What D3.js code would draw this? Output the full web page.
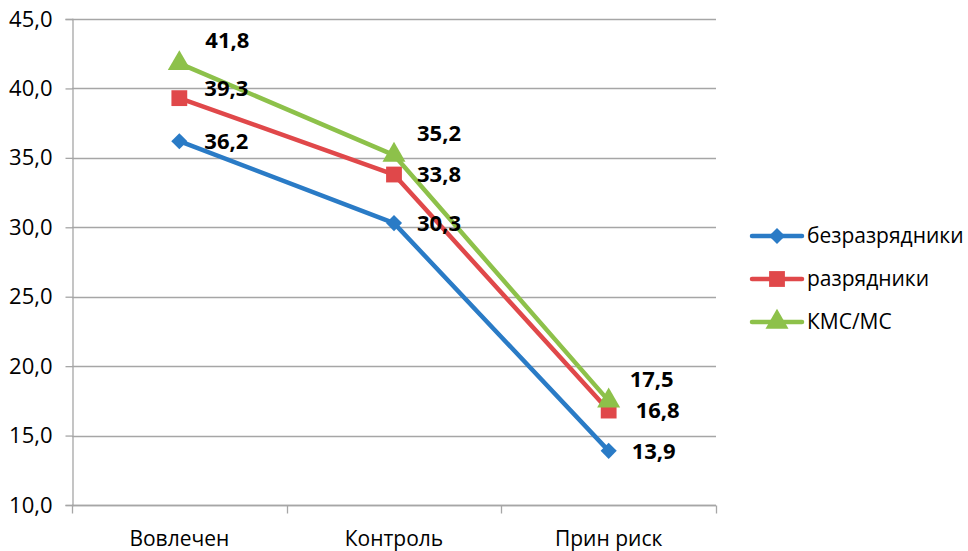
<!DOCTYPE html>
<html>
<head>
<meta charset="utf-8">
<script src="https://cdn.jsdelivr.net/npm/d3@7"></script>
<style>
  html, body { margin: 0; padding: 0; background: #fff; }
  svg { display: block; }
  text { font-family: "Open Sans", "Liberation Sans", sans-serif; fill: #000; }
</style>
</head>
<body>
<svg id="chart" width="968" height="551"></svg>
<script>
// Categories and series values
const categories = ["Вовлечен", "Контроль", "Прин риск"];
const seriesNames = ["безразрядники", "разрядники", "КМС/МС"];
const bezrazryadniki = [36.2, 30.3, 13.9];
const razryadniki = [39.3, 33.8, 16.8];
const kmsMs = [41.8, 35.2, 17.5];
const yTicks = [10, 15, 20, 25, 30, 35, 40, 45];

// Styling per series
const colors = ["#2A7BC6", "#E0484A", "#8DC14A"];
const markers = [d3.symbolSquare, d3.symbolSquare, d3.symbolTriangle];
const markerRotate = [45, 0, 0];
const markerSizes = [130, 250, 230];
// label offsets (dx, dy) relative to each point
const labelOffsets = [
  [[25, 0], [23, 0], [23, 0]],
  [[25, -10], [23, 0], [27, 0]],
  [[26, -23], [23, -22], [21, -22]]
];

const series = [bezrazryadniki, razryadniki, kmsMs];

const svg = d3.select("#chart");
const margin = { left: 72, top: 19, right: 252, bottom: 46 };
const W = 968, H = 551;

const x = d3.scaleBand().domain(categories).range([margin.left, W - margin.right]);
const y = d3.scaleLinear().domain([10, 45]).range([H - margin.bottom, margin.top]);

const fmt = v => d3.format(".1f")(v).replace(".", ",");
const symbolPath = s => d3.symbol().type(markers[s]).size(markerSizes[s])();

// horizontal gridlines
svg.append("g")
  .selectAll("line")
  .data(yTicks)
  .join("line")
  .attr("x1", margin.left).attr("x2", W - margin.right)
  .attr("y1", d => Math.round(y(d)) + 0.5).attr("y2", d => Math.round(y(d)) + 0.5)
  .attr("stroke", "#A6A6A6").attr("stroke-width", 1.3);

// y axis
const yAxis = svg.append("g")
  .attr("transform", `translate(${margin.left + 0.5},0)`)
  .call(d3.axisLeft(y).tickValues(yTicks).tickFormat(fmt).tickSize(7).tickPadding(13));
yAxis.select(".domain").attr("stroke", "#A6A6A6").attr("stroke-width", 1.3);
yAxis.selectAll(".tick line").attr("stroke", "#A6A6A6").attr("stroke-width", 1.3);
yAxis.selectAll(".tick text")
  .attr("font-size", 22).attr("font-family", "\"Open Sans\", sans-serif").attr("fill", "#000");

// x axis with ticks at category boundaries
const xAxisG = svg.append("g").attr("transform", `translate(0,${Math.round(y(10)) + 0.5})`);
xAxisG.append("line")
  .attr("x1", margin.left).attr("x2", W - margin.right)
  .attr("stroke", "#A6A6A6").attr("stroke-width", 1.3);
const boundaries = categories.map(c => x(c)).concat([x(categories[categories.length - 1]) + x.bandwidth()]);
xAxisG.selectAll("line.tk")
  .data(boundaries)
  .join("line").attr("class", "tk")
  .attr("x1", d => Math.round(d) + 0.5).attr("x2", d => Math.round(d) + 0.5)
  .attr("y1", 0).attr("y2", 8)
  .attr("stroke", "#A6A6A6").attr("stroke-width", 1.3);
xAxisG.selectAll("text")
  .data(categories)
  .join("text")
  .attr("x", d => x(d) + x.bandwidth() / 2)
  .attr("y", 40)
  .attr("text-anchor", "middle")
  .attr("font-size", 21)
  .text(d => d);

const cx = c => x(c) + x.bandwidth() / 2;
const line = d3.line().x((d, i) => cx(categories[i])).y(d => y(d));

// series lines and markers
series.forEach((vals, s) => {
  const g = svg.append("g");
  g.append("path")
    .datum(vals)
    .attr("d", line)
    .attr("fill", "none")
    .attr("stroke", colors[s])
    .attr("stroke-width", 4.5)
    .attr("stroke-linejoin", "round");
  g.selectAll("path.m")
    .data(vals)
    .join("path").attr("class", "m")
    .attr("transform", (d, i) => `translate(${cx(categories[i])},${y(d)}) rotate(${markerRotate[s]})`)
    .attr("d", symbolPath(s))
    .attr("fill", colors[s]);
});

// data labels on top
series.forEach((vals, s) => {
  svg.append("g").selectAll("text")
    .data(vals)
    .join("text")
    .attr("x", (d, i) => cx(categories[i]) + labelOffsets[s][i][0])
    .attr("y", (d, i) => y(d) + labelOffsets[s][i][1])
    .attr("dy", "0.35em")
    .attr("font-size", 22)
    .attr("font-weight", "bold")
    .text(d => fmt(d));
});

// legend
const legend = svg.append("g").attr("transform", "translate(752,236)");
seriesNames.forEach((name, s) => {
  const g = legend.append("g").attr("transform", `translate(0,${s * 43})`);
  g.append("line").attr("x1", 0).attr("x2", 50)
    .attr("stroke", colors[s]).attr("stroke-width", 4.5).attr("stroke-linecap", "round");
  g.append("path")
    .attr("transform", `translate(25,0) rotate(${markerRotate[s]})`)
    .attr("d", symbolPath(s))
    .attr("fill", colors[s]);
  g.append("text").attr("x", 55).attr("dy", "0.35em")
    .attr("font-size", 21).text(name);
});
</script>
</body>
</html>
